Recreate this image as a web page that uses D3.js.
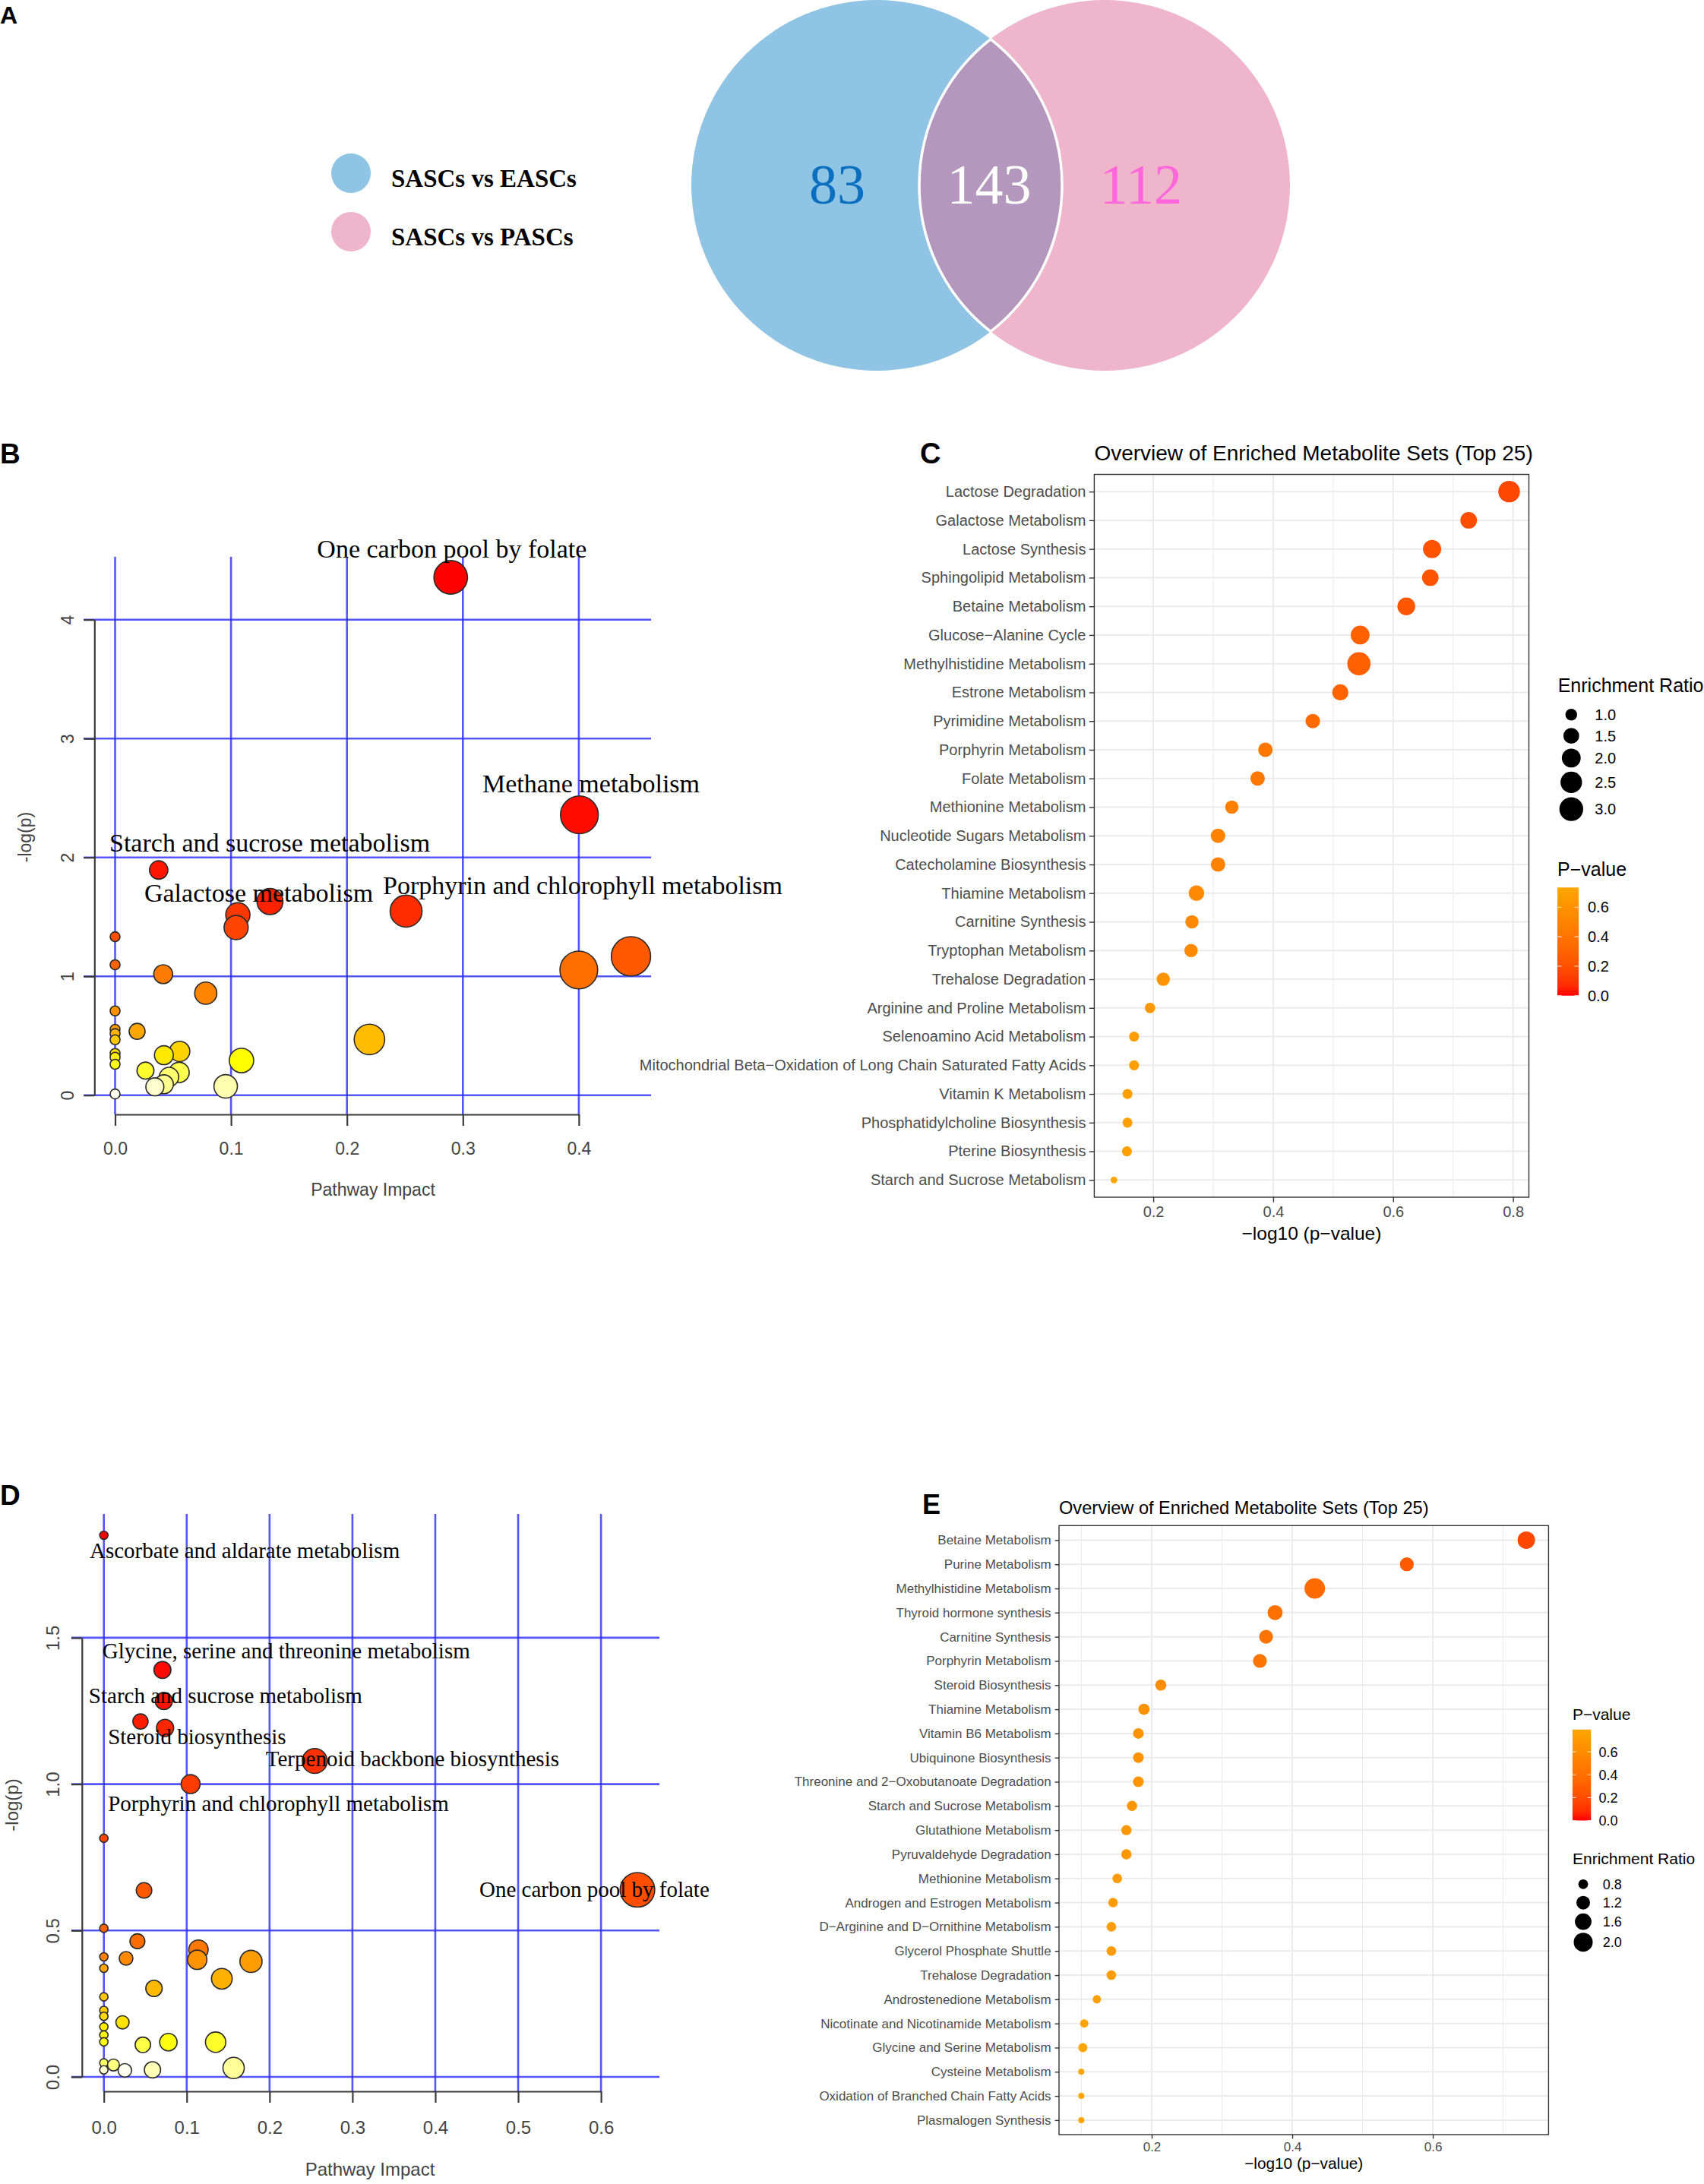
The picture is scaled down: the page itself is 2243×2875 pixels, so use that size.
<!DOCTYPE html>
<html>
<head>
<meta charset="utf-8">
<script src="https://cdn.jsdelivr.net/npm/d3@7"></script>
<style>
  body { margin: 0; background: #fff; }
</style>
</head>
<body>
<svg id="fig" width="2243" height="2875"></svg>
<script>
// ---------------- data ----------------
var vennNames = ["SASCs vs EASCs", "SASCs vs PASCs"];
var vennCounts = [83, 143, 112]; // EASCs only, shared, PASCs only

// panel B : pathway impact vs -log(p)
var impactB = [0.2895, 0.4005, 0.0376, 0.1336, 0.1059, 0.1044, 0.251, 0.445, 0.4, 0, 0, 0.0415,
               0.0782, 0, 0, 0, 0, 0.019, 0.2194, 0.0557, 0.0421, 0, 0, 0, 0.109, 0.0262,
               0.0552, 0.0465, 0.0421, 0.0343, 0.0954, 0];
var logpB = [4.356, 2.358, 1.894, 1.629, 1.517, 1.41, 1.548, 1.168, 1.053, 1.333, 1.097, 1.018,
             0.858, 0.709, 0.554, 0.518, 0.466, 0.537, 0.469, 0.368, 0.3365, 0.351, 0.3195, 0.26,
             0.292, 0.2066, 0.1917, 0.153, 0.0916, 0.0703, 0.0745, 0.01];
var labelNamesB = ["One carbon pool by folate", "Methane metabolism", "Starch and sucrose metabolism",
                   "Galactose metabolism", "Porphyrin and chlorophyll metabolism"];
var labelXB = [0.1742, 0.3168, -0.0049, 0.0252, 0.231];
var labelYB = [4.52, 2.55, 2.049, 1.6255, 1.69];
var xTicksB = [0, 0.1, 0.2, 0.3, 0.4];
var yTicksB = [0, 1, 2, 3, 4];

// panel C : enriched metabolite sets
var setsC = ["Lactose Degradation", "Galactose Metabolism", "Lactose Synthesis", "Sphingolipid Metabolism",
  "Betaine Metabolism", "Glucose\u2212Alanine Cycle", "Methylhistidine Metabolism", "Estrone Metabolism",
  "Pyrimidine Metabolism", "Porphyrin Metabolism", "Folate Metabolism", "Methionine Metabolism",
  "Nucleotide Sugars Metabolism", "Catecholamine Biosynthesis", "Thiamine Metabolism", "Carnitine Synthesis",
  "Tryptophan Metabolism", "Trehalose Degradation", "Arginine and Proline Metabolism",
  "Selenoamino Acid Metabolism", "Mitochondrial Beta\u2212Oxidation of Long Chain Saturated Fatty Acids",
  "Vitamin K Metabolism", "Phosphatidylcholine Biosynthesis", "Pterine Biosynthesis",
  "Starch and Sucrose Metabolism"];
var log10pC = [0.7935, 0.726, 0.665, 0.662, 0.622, 0.545, 0.543, 0.512, 0.466, 0.387, 0.374, 0.331,
               0.308, 0.308, 0.272, 0.2645, 0.263, 0.2166, 0.1945, 0.168, 0.168, 0.157, 0.157, 0.156, 0.1345];
var ratioC = [2.51, 1.62, 1.885, 1.62, 1.81, 1.99, 2.86, 1.55, 1.32, 1.32, 1.32, 1.175,
              1.32, 1.32, 1.46, 1.175, 1.175, 1.175, 0.88, 0.84, 0.84, 0.84, 0.84, 0.84, 0.62];
var xTicksC = [0.2, 0.4, 0.6, 0.8];
var ratioBreaksC = [1.0, 1.5, 2.0, 2.5, 3.0];

// panel D : pathway impact vs -log(p)
var impactD = [0, 0.0707, 0.0724, 0.0442, 0.0739, 0.2545, 0.1047, 0, 0.644, 0.0485, 0, 0.0405,
               0.1142, 0.0268, 0, 0.1127, 0.1776, 0, 0.1424, 0.0605, 0, 0, 0, 0.0225, 0, 0,
               0.0779, 0.1349, 0, 0.0471, 0, 0.0116, 0.1566, 0.0587, 0, 0.0253];
var logpD = [1.85, 1.39, 1.284, 1.214, 1.192, 1.079, 1.0, 0.815, 0.639, 0.637, 0.5075, 0.4634,
             0.4346, 0.4048, 0.41, 0.40, 0.3946, 0.371, 0.3352, 0.3023, 0.2735, 0.227, 0.2068, 0.1863,
             0.171, 0.143, 0.1186, 0.1186, 0.1196, 0.1095, 0.0477, 0.0407, 0.0304, 0.0241, 0.0241, 0.0223];
var labelNamesD = ["Ascorbate and aldarate metabolism", "Glycine, serine and threonine metabolism",
                   "Starch and sucrose metabolism", "Steroid biosynthesis", "Terpenoid backbone biosynthesis",
                   "Porphyrin and chlorophyll metabolism", "One carbon pool by folate"];
var labelXD = [-0.0172, -0.0018, -0.0182, 0.005, 0.1954, 0.005, 0.4532];
var labelYD = [1.773, 1.4297, 1.277, 1.1355, 1.0605, 0.9087, 0.6152];
var xTicksD = [0, 0.1, 0.2, 0.3, 0.4, 0.5, 0.6];
var yTicksD = [0, 0.5, 1.0, 1.5];

// panel E : enriched metabolite sets
var setsE = ["Betaine Metabolism", "Purine Metabolism", "Methylhistidine Metabolism", "Thyroid hormone synthesis",
  "Carnitine Synthesis", "Porphyrin Metabolism", "Steroid Biosynthesis", "Thiamine Metabolism",
  "Vitamin B6 Metabolism", "Ubiquinone Biosynthesis", "Threonine and 2\u2212Oxobutanoate Degradation",
  "Starch and Sucrose Metabolism", "Glutathione Metabolism", "Pyruvaldehyde Degradation",
  "Methionine Metabolism", "Androgen and Estrogen Metabolism", "D\u2212Arginine and D\u2212Ornithine Metabolism",
  "Glycerol Phosphate Shuttle", "Trehalose Degradation", "Androstenedione Metabolism",
  "Nicotinate and Nicotinamide Metabolism", "Glycine and Serine Metabolism", "Cysteine Metabolism",
  "Oxidation of Branched Chain Fatty Acids", "Plasmalogen Synthesis"];
var log10pE = [0.733, 0.563, 0.432, 0.3756, 0.3627, 0.354, 0.213, 0.189, 0.181, 0.181, 0.181, 0.172,
               0.164, 0.164, 0.151, 0.145, 0.1426, 0.1426, 0.1426, 0.122, 0.104, 0.102, 0.0998, 0.0998, 0.0998];
var ratioE = [1.74, 1.22, 2.29, 1.38, 1.22, 1.22, 0.92, 0.93, 0.88, 0.88, 0.88, 0.84,
              0.84, 0.84, 0.79, 0.78, 0.79, 0.79, 0.79, 0.70, 0.70, 0.75, 0.58, 0.58, 0.58];
var xTicksE = [0.2, 0.4, 0.6];
var ratioBreaksE = [0.8, 1.2, 1.6, 2.0];

var pBreaks = [0, 0.2, 0.4, 0.6];

// ---------------- drawing ----------------
var SANS = "'Liberation Sans', Arial, Helvetica, sans-serif";
var SERIF = "'Liberation Serif', 'Times New Roman', serif";
var svg = d3.select("#fig");

function letter(t, x, y, size) {
    svg.append("text").attr("x", x).attr("y", y).text(t)
        .attr("font-family", SANS).attr("font-weight", "bold").attr("font-size", size);
}
letter("A", 0, 31, 32);
letter("B", 0, 610, 37);
letter("C", 1211, 610, 38);
letter("D", 0, 1981, 37);
letter("E", 1214, 1993, 36);

// ---- A : venn ----
function drawVenn() {
    var g = svg.append("g");
    var R = 244, cy = 244, c1 = 1154, c2 = 1454;
    g.append("circle").attr("cx", c1).attr("cy", cy).attr("r", R).attr("fill", "#8fc4e4");
    g.append("circle").attr("cx", c2).attr("cy", cy).attr("r", R).attr("fill", "#efb5ca");
    var half = (c2 - c1) / 2, h = Math.sqrt(R * R - half * half), mx = c1 + half;
    var p = d3.path();
    p.moveTo(mx, cy - h);
    p.arc(c1, cy, R, -Math.asin(h / R), Math.asin(h / R), false);
    p.arc(c2, cy, R, Math.PI - Math.asin(h / R), Math.PI + Math.asin(h / R), false);
    p.closePath();
    g.append("path").attr("d", p.toString()).attr("fill", "#b497bc")
        .attr("stroke", "#fff").attr("stroke-width", 3.5);

    var numX = [1102, 1302, 1502];
    var numCol = ["#0b6fc0", "#ffffff", "#ff66dc"];
    g.selectAll(".vnum").data(vennCounts).enter().append("text")
        .attr("x", function(d, i) { return numX[i]; })
        .attr("y", 268)
        .attr("text-anchor", "middle")
        .attr("font-family", SERIF).attr("font-size", 74)
        .attr("fill", function(d, i) { return numCol[i]; })
        .text(function(d) { return d; });

    var legCol = ["#8fc4e4", "#efb5ca"];
    var legY = [228, 305];
    g.selectAll(".vleg").data(vennNames).enter().append("circle")
        .attr("cx", 462).attr("cy", function(d, i) { return legY[i]; })
        .attr("r", 26).attr("fill", function(d, i) { return legCol[i]; });
    g.selectAll(".vlegt").data(vennNames).enter().append("text")
        .attr("x", 515).attr("y", function(d, i) { return legY[i] + 18; })
        .attr("font-family", SERIF).attr("font-weight", "bold").attr("font-size", 33)
        .text(function(d) { return d; });
}
drawVenn();

// R heat.colors(n)
function heatColors(n) {
    var j = Math.floor(n / 4), i = n - j, out = [];
    for (var k = 0; k < i; k++) {
        out.push(d3.rgb(255, Math.round(255 * (i > 1 ? k / (i - 1) : 0)), 0).toString());
    }
    for (var m = 0; m < j; m++) {
        var s0 = 1 - 1 / (2 * j), s1 = 1 / (2 * j);
        var s = j > 1 ? s0 + (s1 - s0) * m / (j - 1) : s0;
        out.push(d3.rgb(255, 255, Math.round(255 * (1 - s))).toString());
    }
    return out;
}

// ---- B / D : pathway bubble plots ----
function drawPathway(o) {
    var g = svg.append("g");
    var x = d3.scaleLinear().domain([o.xTicks[0], o.xTicks[o.xTicks.length - 1]]).range(o.xRange);
    var y = d3.scaleLinear().domain([o.yTicks[0], o.yTicks[o.yTicks.length - 1]]).range(o.yRange);
    var r = d3.scaleSqrt().domain([0, 1]).range(o.rRange);

    var pts = o.impact.map(function(v, i) { return { x: v, y: o.logp[i] }; });
    var order = pts.slice().sort(function(a, b) { return b.y - a.y; });
    var cols = heatColors(pts.length);
    order.forEach(function(d, i) { d.col = cols[i]; });

    // blue grid
    g.selectAll(".vg").data(o.xTicks).enter().append("line")
        .attr("x1", function(d) { return x(d); }).attr("x2", function(d) { return x(d); })
        .attr("y1", o.gridTop).attr("y2", o.axisY)
        .attr("stroke", "#2a2aff").attr("stroke-opacity", 0.8).attr("stroke-width", 2.6);
    g.selectAll(".hg").data(o.yTicks).enter().append("line")
        .attr("x1", o.gridLeft).attr("x2", o.gridRight)
        .attr("y1", function(d) { return y(d); }).attr("y2", function(d) { return y(d); })
        .attr("stroke", "#2a2aff").attr("stroke-opacity", 0.8).attr("stroke-width", 2.6);

    // axes
    var xa = g.append("g").attr("transform", "translate(0," + o.axisY + ")")
        .call(d3.axisBottom(x).tickValues(o.xTicks).tickFormat(d3.format(".1f"))
            .tickSize(15).tickSizeOuter(0));
    var ya = g.append("g").attr("transform", "translate(" + o.axisX + ",0)")
        .call(d3.axisLeft(y).tickValues(o.yTicks).tickFormat(o.yFormat)
            .tickSize(14).tickSizeOuter(0));
    [xa, ya].forEach(function(a) {
        a.selectAll("path, line").attr("stroke", "#3a3a3a").attr("stroke-width", 2.2);
        a.selectAll("text").attr("fill", "#444").attr("font-family", SANS).attr("font-size", o.tickFont);
    });
    xa.selectAll("text").attr("y", o.xLabOff).attr("dy", "0.36em");
    ya.selectAll("text").attr("x", null).attr("dy", "0.36em").attr("text-anchor", "middle")
        .attr("transform", "translate(" + o.yLabOff + ",0) rotate(-90)");

    g.append("text").attr("x", o.xTitle[0]).attr("y", o.xTitle[1]).attr("dy", "0.36em")
        .attr("text-anchor", "middle").attr("font-family", SANS).attr("font-size", o.titleFont)
        .attr("fill", "#444").text("Pathway Impact");
    g.append("text").attr("transform", "translate(" + o.yTitle[0] + "," + o.yTitle[1] + ") rotate(-90)")
        .attr("dy", "0.36em").attr("text-anchor", "middle").attr("font-family", SANS)
        .attr("font-size", o.titleFont).attr("fill", "#444").text("-log(p)");

    // bubbles
    g.selectAll(".bub").data(order).enter().append("circle")
        .attr("cx", function(d) { return x(d.x); })
        .attr("cy", function(d) { return y(d.y); })
        .attr("r", function(d) { return r(d.x); })
        .attr("fill", function(d) { return d.col; })
        .attr("stroke", "#2b2b2b").attr("stroke-width", 1.6);

    // labels
    g.selectAll(".lab").data(o.labels).enter().append("text")
        .attr("x", function(d, i) { return x(o.labelX[i]); })
        .attr("y", function(d, i) { return y(o.labelY[i]); })
        .attr("font-family", SERIF).attr("font-size", o.labelFont)
        .text(function(d) { return d; });
}

drawPathway({
    impact: impactB, logp: logpB, labels: labelNamesB, labelX: labelXB, labelY: labelYB,
    xTicks: xTicksB, yTicks: yTicksB, yFormat: d3.format("d"),
    xRange: [151.5, 761.9], yRange: [1441.7, 815.7], rRange: [6.5, 35.5],
    gridTop: 733, gridLeft: 110, gridRight: 857, axisY: 1467, axisX: 124.3,
    xLabOff: 45, yLabOff: -36, tickFont: 23, titleFont: 23, labelFont: 34,
    xTitle: [491, 1566], yTitle: [33, 1102]
});

drawPathway({
    impact: impactD, logp: logpD, labels: labelNamesD, labelX: labelXD, labelY: labelYD,
    xTicks: xTicksD, yTicks: yTicksD, yFormat: d3.format(".1f"),
    xRange: [136.7, 791.1], yRange: [2734, 2155.9], rRange: [5.5, 27],
    gridTop: 1993, gridLeft: 94, gridRight: 868, axisY: 2753, axisX: 107.8,
    xLabOff: 47, yLabOff: -38, tickFont: 24, titleFont: 24, labelFont: 29,
    xTitle: [487, 2855], yTitle: [15, 2376]
});

// ---- C / E : enrichment dot plots ----
function drawDots(o) {
    var g = svg.append("g");
    var ext = d3.extent(o.values), pad = (ext[1] - ext[0]) * 0.05;
    var x = d3.scaleLinear().domain([ext[0] - pad, ext[1] + pad]).range([o.left, o.right]);
    var y = d3.scalePoint().domain(o.names).range([o.top, o.bottom]).padding(0.6);
    var pv = o.values.map(function(v) { return Math.pow(10, -v); });
    var pMax = d3.max(pv);
    var col = d3.scaleLinear().domain([0, pMax]).range(["#ff0000", "#ffa500"]).interpolate(d3.interpolateLab);
    var rt = d3.scaleLinear().domain(o.ratioRef).range([0, 1]);
    function rad(v) { return o.rRange[0] + (o.rRange[1] - o.rRange[0]) * Math.sqrt(Math.max(0, rt(v))); }

    var dom = x.domain();
    var step = o.ticks[1] - o.ticks[0];
    var minor = [];
    for (var t = o.ticks[0] - step / 2; t <= dom[1]; t += step) {
        if (t >= dom[0]) minor.push(t);
    }
    g.selectAll(".mn").data(minor).enter().append("line")
        .attr("x1", function(d) { return x(d); }).attr("x2", function(d) { return x(d); })
        .attr("y1", o.top).attr("y2", o.bottom).attr("stroke", "#ebebeb").attr("stroke-width", 1);
    g.selectAll(".mj").data(o.ticks).enter().append("line")
        .attr("x1", function(d) { return x(d); }).attr("x2", function(d) { return x(d); })
        .attr("y1", o.top).attr("y2", o.bottom).attr("stroke", "#ebebeb").attr("stroke-width", 2);
    g.selectAll(".hr").data(o.names).enter().append("line")
        .attr("x1", o.left).attr("x2", o.right)
        .attr("y1", function(d) { return y(d); }).attr("y2", function(d) { return y(d); })
        .attr("stroke", "#ebebeb").attr("stroke-width", 2);

    g.selectAll(".dot").data(o.names).enter().append("circle")
        .attr("cx", function(d, i) { return x(o.values[i]); })
        .attr("cy", function(d) { return y(d); })
        .attr("r", function(d, i) { return rad(o.ratios[i]); })
        .attr("fill", function(d, i) { return col(pv[i]); });

    g.append("rect").attr("x", o.left).attr("y", o.top)
        .attr("width", o.right - o.left).attr("height", o.bottom - o.top)
        .attr("fill", "none").attr("stroke", "#333").attr("stroke-width", 1.4);

    var ya = g.append("g").attr("transform", "translate(" + o.left + ",0)")
        .call(d3.axisLeft(y).tickSize(o.tickLen).tickPadding(o.tickPad));
    var xa = g.append("g").attr("transform", "translate(0," + o.bottom + ")")
        .call(d3.axisBottom(x).tickValues(o.ticks).tickFormat(d3.format(".1f")).tickSize(o.tickLen).tickPadding(3));
    [xa, ya].forEach(function(a) {
        a.select(".domain").remove();
        a.selectAll("line").attr("stroke", "#333").attr("stroke-width", 1.4);
        a.selectAll("text").attr("fill", "#4d4d4d").attr("font-family", SANS).attr("font-size", o.axisFont);
    });
    xa.selectAll("text").attr("y", o.xLabOff).attr("dy", "0.36em");

    g.append("text").attr("x", o.left).attr("y", o.titleY).text("Overview of Enriched Metabolite Sets (Top 25)")
        .attr("font-family", SANS).attr("font-size", o.titleFont);
    g.append("text").attr("x", (o.left + o.right) / 2).attr("y", o.xTitleY).attr("dy", "0.36em")
        .attr("text-anchor", "middle").attr("font-family", SANS).attr("font-size", o.xTitleFont)
        .text("\u2212log10 (p\u2212value)");

    // size legend
    var L = o.sizeLeg;
    g.append("text").attr("x", L.x).attr("y", L.titleY).text("Enrichment Ratio")
        .attr("font-family", SANS).attr("font-size", o.legTitleFont);
    var hs = o.ratioBreaks.map(function(b) { return Math.max(2 * rad(b) + L.keyPad, L.keyMin); });
    var centers = [], c = L.titleY + L.keyTop + hs[0] / 2;
    hs.forEach(function(h, i) { if (i > 0) c += (hs[i - 1] + h) / 2; centers.push(c); });
    g.selectAll(".sk").data(o.ratioBreaks).enter().append("circle")
        .attr("cx", L.cx).attr("cy", function(d, i) { return centers[i]; })
        .attr("r", function(d) { return rad(d); }).attr("fill", "#000");
    g.selectAll(".skt").data(o.ratioBreaks).enter().append("text")
        .attr("x", L.tx).attr("y", function(d, i) { return centers[i]; }).attr("dy", "0.36em")
        .attr("font-family", SANS).attr("font-size", o.legFont)
        .text(function(d) { return d3.format(".1f")(d); });

    // colour bar
    var B = o.colLeg;
    g.append("text").attr("x", B.x).attr("y", B.titleY).text("P\u2212value")
        .attr("font-family", SANS).attr("font-size", o.legTitleFont);
    var gid = "grad" + o.id;
    var grad = svg.append("defs").append("linearGradient").attr("id", gid)
        .attr("x1", 0).attr("y1", 1).attr("x2", 0).attr("y2", 0);
    d3.range(0, 1.0001, 0.1).forEach(function(f) {
        grad.append("stop").attr("offset", f).attr("stop-color", col(f * pMax));
    });
    g.append("rect").attr("x", B.x).attr("y", B.top).attr("width", B.w).attr("height", B.h)
        .attr("fill", "url(#" + gid + ")");
    var cs = d3.scaleLinear().domain([0, pMax]).range([B.top + B.h, B.top]);
    g.selectAll(".cbt").data(pBreaks).enter().append("path")
        .attr("d", function(d) {
            var yy = cs(d);
            return "M" + B.x + "," + yy + "h" + (B.w / 5) + "M" + (B.x + B.w) + "," + yy + "h" + (-B.w / 5);
        })
        .attr("stroke", "#fff").attr("stroke-opacity", 0.7).attr("stroke-width", 1.2);
    g.selectAll(".cbl").data(pBreaks).enter().append("text")
        .attr("x", B.tx).attr("y", function(d) { return cs(d); }).attr("dy", "0.36em")
        .attr("font-family", SANS).attr("font-size", o.legFont)
        .text(function(d) { return d3.format(".1f")(d); });
}

drawDots({
    id: "C", names: setsC, values: log10pC, ratios: ratioC, ticks: xTicksC, ratioBreaks: ratioBreaksC,
    left: 1440.4, right: 2012.5, top: 624.5, bottom: 1576,
    ratioRef: [0.5, 3.0], rRange: [1.23, 15.7],
    tickLen: 6.6, tickPad: 4.4, axisFont: 20, xLabOff: 18.7,
    titleY: 606, titleFont: 28, xTitleY: 1623, xTitleFont: 24.5,
    legTitleFont: 25, legFont: 20,
    sizeLeg: { x: 2050.7, titleY: 910.7, keyTop: 16, keyPad: 5.4, keyMin: 28, cx: 2068.3, tx: 2099.3 },
    colLeg: { x: 2050, titleY: 1152.7, top: 1168.3, w: 28, h: 142.4, tx: 2090 }
});

drawDots({
    id: "E", names: setsE, values: log10pE, ratios: ratioE, ticks: xTicksE, ratioBreaks: ratioBreaksE,
    left: 1394, right: 2038.4, top: 2008.3, bottom: 2810,
    ratioRef: [0.5, 2.0], rRange: [1.46, 12.5],
    tickLen: 5.4, tickPad: 5, axisFont: 17, xLabOff: 15.5,
    titleY: 1992.5, titleFont: 23.6, xTitleY: 2848, xTitleFont: 20.8,
    legTitleFont: 21, legFont: 18,
    sizeLeg: { x: 2070, titleY: 2454.3, keyTop: 13.8, keyPad: 3.6, keyMin: 24.4, cx: 2084, tx: 2109.8 },
    colLeg: { x: 2069.9, titleY: 2264, top: 2276.8, w: 24.3, h: 119.7, tx: 2104.4 }
});
</script>
</body>
</html>
